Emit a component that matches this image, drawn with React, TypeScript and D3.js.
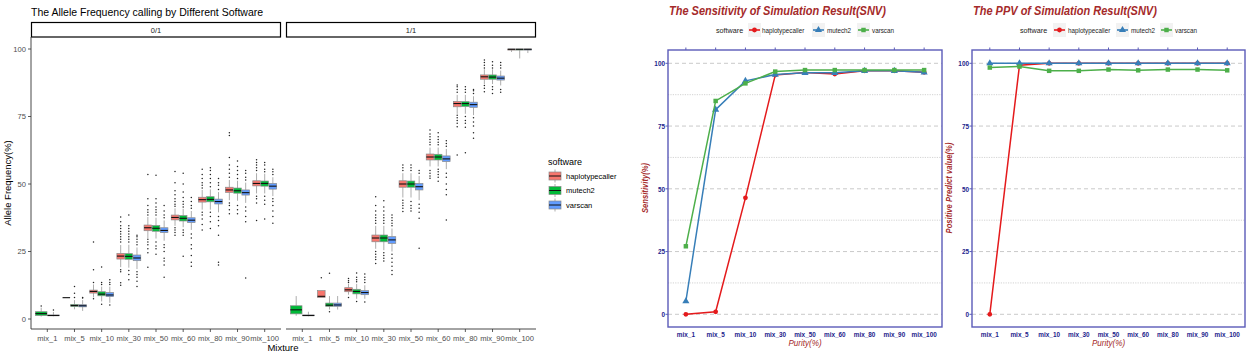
import React from "react";
import * as d3 from "d3";

// ---------------- DATA ----------------
const mixtures = ["mix_1", "mix_5", "mix_10", "mix_30", "mix_50", "mix_60", "mix_80", "mix_90", "mix_100"];
const softwares = ["haplotypecaller", "mutech2", "varscan"];
const facets = ["0/1", "1/1"];
const yTicks = [0, 25, 50, 75, 100];

type Stat = [number, number, number, number, number] | null; // q1, median, q3, whiskerLow, whiskerHigh

// Facet 0/1
const het_haplotypecaller_stats: Stat[] = [
  null, [7.9, 7.9, 7.9, 7.9, 7.9], [9.6, 10.2, 10.7, 8.0, 12.8], [22.2, 23.3, 24.3, 19.2, 27.4],
  [32.7, 33.8, 34.8, 30.0, 37.8], [36.7, 37.6, 38.5, 34.5, 41.0], [43.3, 44.2, 45.1, 40.5, 47.8],
  [46.9, 47.8, 48.8, 44.0, 51.5], [49.3, 50.2, 51.2, 46.5, 54.0],
];
const het_haplotypecaller_outliers: number[][] = [
  [], [], [7.5, 13.5, 18.2, 28.5],
  [12.5, 13.4, 17.5, 18.2, 28.5, 29.5, 30.5, 31.5, 32.4, 33.5, 34.5, 36.0, 37.8],
  [19.2, 24.5, 26.0, 27.5, 28.5, 29.5, 38.5, 39.5, 40.5, 42.0, 44.5, 53.5],
  [31.0, 32.0, 33.0, 33.8, 41.8, 42.5, 43.5, 44.5, 46.0, 47.5, 50.5, 54.6],
  [33.0, 35.0, 37.0, 38.5, 39.5, 48.5, 49.5, 50.5, 52.0, 53.5, 55.5],
  [39.0, 40.5, 42.0, 43.0, 52.5, 54.0, 55.5, 57.0, 59.8, 68.0, 69.0],
  [36.5, 43.0, 44.5, 45.5, 55.0, 56.0, 57.0, 58.0, 59.0],
];
const het_mutech2_stats: Stat[] = [
  [1.3, 2.0, 2.7, 0.9, 4.2], [4.6, 5.0, 5.4, 3.6, 7.0], [8.6, 9.2, 10.1, 6.5, 12.0], [22.1, 23.2, 24.2, 19.0, 27.5],
  [32.5, 33.6, 34.6, 29.8, 37.5], [36.3, 37.3, 38.3, 34.0, 40.8], [43.4, 44.3, 45.3, 40.5, 48.0],
  [46.6, 47.5, 48.5, 43.8, 51.2], [49.2, 50.2, 51.1, 46.5, 53.8],
];
const het_mutech2_outliers: number[][] = [
  [4.8], [8.0, 9.5, 12.0], [5.5, 12.8, 13.5, 19.3],
  [14.5, 16.5, 18.0, 28.5, 29.5, 30.5, 31.5, 32.5, 33.5, 34.5, 38.5],
  [24.0, 26.0, 27.0, 28.5, 38.5, 39.5, 40.5, 41.5, 43.0, 44.5, 53.2],
  [23.2, 31.0, 32.0, 33.0, 41.5, 42.5, 43.5, 45.0, 47.0, 50.0, 54.0],
  [33.5, 36.0, 38.0, 39.5, 49.0, 50.5, 52.0, 53.5, 55.0, 56.0],
  [39.0, 40.5, 42.0, 52.0, 53.5, 55.0, 56.5, 58.5],
  [37.0, 42.5, 44.0, 45.5, 54.5, 55.5, 57.0, 58.0],
];
const het_varscan_stats: Stat[] = [
  [1.2, 1.3, 1.5, 1.0, 2.6], [4.5, 4.9, 5.3, 3.0, 7.0], [8.3, 8.9, 9.8, 6.0, 12.0], [21.6, 22.6, 23.7, 18.5, 26.5],
  [32.0, 32.8, 33.8, 29.0, 36.5], [35.7, 36.6, 37.5, 33.0, 40.0], [42.6, 43.5, 44.4, 39.5, 47.0],
  [45.9, 46.8, 47.8, 43.0, 50.5], [48.1, 49.2, 50.2, 45.5, 52.5],
];
const het_varscan_outliers: number[][] = [
  [3.3], [7.8, 8.0], [5.2, 12.8, 13.5, 14.5],
  [12.0, 14.0, 15.5, 16.5, 17.5, 27.5, 28.5, 29.5, 30.5, 31.0],
  [15.5, 20.0, 21.5, 22.5, 25.0, 26.5, 27.5, 37.5, 38.5, 40.0, 42.0],
  [19.5, 21.0, 23.5, 26.0, 27.5, 30.0, 31.5, 41.0, 42.0, 43.5, 45.0],
  [20.0, 21.0, 31.0, 34.5, 36.5, 38.0, 48.0, 49.5, 50.5, 52.0],
  [15.2, 36.0, 38.0, 40.0, 41.5, 51.5, 52.5, 54.0, 55.0],
  [35.5, 38.0, 40.0, 42.0, 43.5, 44.5, 53.5, 54.5, 55.5],
];

// Facet 1/1
const hom_haplotypecaller_stats: Stat[] = [
  null, [8.0, 8.4, 10.5, 8.0, 10.5], [10.1, 10.8, 11.6, 9.0, 13.0], [28.6, 30.0, 31.1, 26.0, 34.5],
  [48.8, 50.0, 51.2, 45.0, 54.0], [58.9, 60.0, 61.1, 56.5, 63.5], [78.6, 79.8, 80.6, 76.0, 83.0],
  [88.8, 89.7, 90.4, 87.0, 92.5], [99.6, 99.9, 100, 98.9, 100],
];
const hom_haplotypecaller_outliers: number[][] = [
  [], [15.3], [8.0, 13.5, 14.2, 15.0],
  [20.6, 22.0, 23.0, 24.0, 25.0, 35.5, 36.5, 37.5, 38.5, 40.0, 42.0, 45.3],
  [39.8, 41.0, 42.0, 43.0, 44.0, 55.0, 56.0, 57.0],
  [52.1, 53.0, 54.0, 55.0, 64.5, 65.5, 66.5, 67.5, 68.5, 70.0],
  [60.7, 71.2, 72.5, 73.5, 74.5, 75.5, 84.0, 85.0, 86.0, 86.7],
  [84.2, 85.5, 86.5, 93.0, 94.0, 95.0, 95.9],
  [],
];
const hom_mutech2_stats: Stat[] = [
  [1.9, 3.4, 4.9, 1.2, 8.5], [4.7, 5.1, 5.9, 3.5, 8.5], [9.3, 10.2, 11.0, 7.5, 13.0], [28.6, 30.0, 31.1, 25.5, 34.5],
  [48.8, 50.0, 51.1, 45.0, 54.0], [58.9, 60.0, 61.0, 56.5, 63.5], [78.7, 79.8, 80.5, 76.0, 83.0],
  [88.8, 89.6, 90.4, 87.0, 92.5], [99.6, 99.9, 100, 96.5, 100],
];
const hom_mutech2_outliers: number[][] = [
  [], [2.7, 16.9], [6.5, 13.8, 14.5, 15.5, 17.0],
  [21.5, 22.5, 23.5, 24.5, 35.5, 36.5, 37.5, 38.5, 40.0, 41.5, 43.8],
  [40.0, 41.0, 42.0, 43.5, 55.0, 56.0, 57.0],
  [51.0, 52.5, 53.5, 54.5, 55.5, 64.5, 65.5, 66.5, 67.5, 69.0],
  [61.6, 71.0, 72.5, 73.5, 75.0, 84.0, 85.0, 86.0],
  [83.5, 85.0, 86.0, 93.0, 94.0, 95.3],
  [],
];
const hom_varscan_stats: Stat[] = [
  [1.2, 1.3, 1.5, 1.0, 2.7], [4.7, 5.2, 5.9, 3.5, 8.5], [9.0, 9.8, 10.5, 7.5, 12.5], [28.0, 29.3, 30.5, 25.0, 33.5],
  [47.8, 49.0, 50.2, 44.0, 53.0], [58.3, 59.3, 60.4, 55.5, 63.0], [78.4, 79.4, 80.3, 75.5, 82.5],
  [88.5, 89.2, 90.0, 86.5, 92.0], [99.6, 99.9, 100, 98.5, 100],
];
const hom_varscan_outliers: number[][] = [
  [], [], [6.3, 13.5, 14.5, 15.5, 16.7],
  [16.5, 18.0, 19.5, 21.0, 22.5, 24.0, 34.5, 35.5, 36.5, 37.5, 38.5],
  [26.2, 37.3, 39.5, 41.0, 42.5, 54.0, 55.0],
  [36.7, 46.0, 48.0, 50.0, 52.5, 54.0, 64.0, 65.0, 66.0],
  [66.9, 69.0, 71.5, 73.0, 74.5, 83.5, 84.5, 85.0],
  [84.0, 85.0, 93.0, 94.0, 95.0],
  [],
];

// Sensitivity (%)
const sens_haplotypecaller = [0, 1, 46.4, 95.3, 96.3, 95.7, 97, 97, 96.4];
const sens_mutech2 = [5.2, 81.5, 93, 95.5, 96.2, 96.2, 97, 97, 96.4];
const sens_varscan = [27.1, 85, 92, 96.7, 97.3, 97.3, 97.3, 97.3, 97.3];

// PPV (%)
const ppv_haplotypecaller = [0, 99.2, 100, 100, 100, 100, 100, 100, 100];
const ppv_mutech2 = [100, 100, 100, 100, 100, 100, 100, 100, 100];
const ppv_varscan = [98.3, 98.7, 97, 97, 97.5, 97.2, 97.5, 97.5, 97.2];

// ---------------- STYLE ----------------
const boxColors = ["#F8766D", "#00BA38", "#619CFF"];
const lineColors = ["#E41A1C", "#377EB8", "#4DAF4A"];
const FONT = "'Liberation Sans', Arial, sans-serif";
const navy = "#1C1C8C";
const darkRed = "#A52A2A";
const frame = "#5B5BB8";

const boxSets = [
  { stats: [het_haplotypecaller_stats, het_mutech2_stats, het_varscan_stats], outs: [het_haplotypecaller_outliers, het_mutech2_outliers, het_varscan_outliers] },
  { stats: [hom_haplotypecaller_stats, hom_mutech2_stats, hom_varscan_stats], outs: [hom_haplotypecaller_outliers, hom_mutech2_outliers, hom_varscan_outliers] },
];

// condensed text (simulates a narrow font)
function NText(p: {
  x: number; y: number; sx: number; size: number; anchor?: string; weight?: string; italic?: boolean;
  fill: string; rotate?: boolean; children: React.ReactNode;
}) {
  const tr = p.rotate
    ? `translate(${p.x},${p.y}) rotate(-90) scale(${p.sx},1)`
    : `translate(${p.x},${p.y}) scale(${p.sx},1)`;
  return (
    <text transform={tr} fontSize={p.size} textAnchor={p.anchor || "start"} fontWeight={p.weight || "normal"}
      fontStyle={p.italic ? "italic" : "normal"} fontFamily={FONT} fill={p.fill}>
      {p.children}
    </text>
  );
}

function BoxPanel() {
  const y = d3.scaleLinear().domain([0, 100]).range([319, 49]);
  const panelTop = 37, panelBottom = 329, W = 250;
  const xs = [31, 286];
  return (
    <g>
      <text x={31} y={16} fontSize={10.5} fontFamily={FONT} fill="#000">The Allele Frequency calling by Different Software</text>
      {facets.map((f, fi) => {
        const x0 = xs[fi];
        const x = d3.scalePoint<string>().domain(mixtures).range([x0, x0 + W]).padding(0.6);
        const step = x.step();
        const set = boxSets[fi];
        return (
          <g key={f}>
            <rect x={x0 + 0.5} y={22.5} width={W - 1} height={14.5} fill="#fff" stroke="#000" strokeWidth={1.2} />
            <text x={x0 + W / 2} y={32.5} fontSize={7.5} textAnchor="middle" fontFamily={FONT} fill="#1a1a1a">{f}</text>
            <line x1={x0} x2={x0 + W} y1={panelBottom} y2={panelBottom} stroke="#333" strokeWidth={0.9} />
            {mixtures.map((m) => (
              <g key={m}>
                <line x1={x(m)} x2={x(m)} y1={panelBottom} y2={panelBottom + 3} stroke="#333" strokeWidth={0.8} />
                <text x={x(m)} y={341} fontSize={7.6} textAnchor="middle" fontFamily={FONT} fill="#4D4D4D">{m}</text>
              </g>
            ))}
            {mixtures.map((m, mi) => {
              const present = softwares.map((s, si) => si).filter((si) => set.stats[si][mi] !== null);
              const total = 0.9 * step;
              const bw = total / present.length;
              return present.map((si, k) => {
                const st = set.stats[si][mi] as [number, number, number, number, number];
                const left = (x(m) as number) - total / 2 + k * bw;
                const cx = left + bw / 2;
                const [q1, med, q3, lo, hi] = st;
                return (
                  <g key={m + si}>
                    <line x1={cx} x2={cx} y1={y(hi)} y2={y(q3)} stroke="#8a8a8a" strokeWidth={0.7} />
                    <line x1={cx} x2={cx} y1={y(q1)} y2={y(lo)} stroke="#8a8a8a" strokeWidth={0.7} />
                    <rect x={left + 0.3} y={y(q3)} width={bw - 0.6} height={Math.max(0, y(q1) - y(q3))} fill={boxColors[si]} stroke="#8a8a8a" strokeWidth={0.7} />
                    <line x1={left + 0.3} x2={left + bw - 0.3} y1={y(med)} y2={y(med)} stroke="#111" strokeWidth={1.1} />
                    {set.outs[si][mi].map((v, oi) => (
                      <circle key={oi} cx={cx} cy={y(v)} r={0.75} fill="#222" />
                    ))}
                  </g>
                );
              });
            })}
          </g>
        );
      })}
      <line x1={31} x2={31} y1={panelTop} y2={panelBottom} stroke="#333" strokeWidth={0.9} />
      {yTicks.map((t) => (
        <g key={t}>
          <line x1={28} x2={31} y1={y(t)} y2={y(t)} stroke="#333" strokeWidth={0.8} />
          <text x={26} y={y(t) + 2.6} fontSize={7.6} textAnchor="end" fontFamily={FONT} fill="#4D4D4D">{t}</text>
        </g>
      ))}
      <text transform="translate(11,183) rotate(-90)" fontSize={9.5} textAnchor="middle" fontFamily={FONT} fill="#000">Allele Frequency(%)</text>
      <text x={283} y={351} fontSize={9.5} textAnchor="middle" fontFamily={FONT} fill="#000">Mixture</text>
      <text x={548} y={165} fontSize={9} fontFamily={FONT} fill="#000">software</text>
      {softwares.map((s, i) => {
        const cy = 176 + i * 14.5;
        return (
          <g key={s}>
            <line x1={555} x2={555} y1={cy - 6.5} y2={cy + 6.5} stroke="#8a8a8a" strokeWidth={0.7} />
            <rect x={549} y={cy - 4} width={12} height={8} fill={boxColors[i]} stroke="#8a8a8a" strokeWidth={0.7} />
            <line x1={549} x2={561} y1={cy} y2={cy} stroke="#111" strokeWidth={1} />
            <text x={566} y={cy + 2.6} fontSize={7.5} fontFamily={FONT} fill="#000">{s}</text>
          </g>
        );
      })}
    </g>
  );
}

const symbolTypes = [d3.symbolCircle, d3.symbolTriangle, d3.symbolSquare];
const symbolSizes = [18, 22, 20];

function LinePanel(props: {
  left: number; right: number; title: string; titleSx: number; ytitle: string; series: number[][];
  legendX: number; keyXs: number[]; textXs: number[];
}) {
  const { left, right, title, titleSx, ytitle, series, legendX, keyXs, textXs } = props;
  const top = 50, bottom = 327;
  const x = d3.scalePoint<string>().domain(mixtures).range([left, right]).padding(0.6);
  const y = d3.scaleLinear().domain([0, 100]).range([314.3, 63.3]);
  const line = d3.line<number>().x((d, i) => x(mixtures[i]) as number).y((d) => y(d));
  const minor = [12.5, 37.5, 62.5, 87.5];
  return (
    <g>
      <NText x={left + 1} y={14.5} sx={titleSx} size={12.5} italic weight="bold" fill={darkRed}>{title}</NText>
      <NText x={legendX} y={33} sx={0.9} size={8} fill="#222">software</NText>
      {softwares.map((s, i) => (
        <g key={s}>
          <rect x={keyXs[i]} y={23} width={13} height={14} fill="#F2F2F2" />
          <line x1={keyXs[i] + 1} x2={keyXs[i] + 12} y1={30} y2={30} stroke={lineColors[i]} strokeWidth={1.6} />
          <path d={d3.symbol().type(symbolTypes[i]).size(symbolSizes[i])() || ""} transform={`translate(${keyXs[i] + 6.5},30)`} fill={lineColors[i]} />
          <NText x={textXs[i]} y={32.5} sx={0.9} size={7} fill="#222">{s}</NText>
        </g>
      ))}
      {minor.map((t) => (
        <line key={"m" + t} x1={left} x2={right} y1={y(t)} y2={y(t)} stroke="#C8C8C8" strokeWidth={0.8} strokeDasharray="1.2,1.2" />
      ))}
      {yTicks.map((t) => (
        <line key={"g" + t} x1={left} x2={right} y1={y(t)} y2={y(t)} stroke="#C4C4C4" strokeWidth={0.9} strokeDasharray="4,3" />
      ))}
      <rect x={left} y={top} width={right - left} height={bottom - top} fill="none" stroke={frame} strokeWidth={1.4} />
      {mixtures.map((m) => (
        <g key={m}>
          <line x1={x(m)} x2={x(m)} y1={top - 2.5} y2={top} stroke={frame} strokeWidth={1} />
          <NText x={x(m) as number} y={337} sx={0.8} size={8} weight="bold" anchor="middle" fill={navy}>{m}</NText>
        </g>
      ))}
      {yTicks.map((t) => (
        <g key={t}>
          <line x1={left - 2.5} x2={left} y1={y(t)} y2={y(t)} stroke={frame} strokeWidth={1} />
          <NText x={left - 3} y={y(t) + 2.7} sx={0.85} size={7.5} weight="bold" anchor="end" fill={navy}>{t}</NText>
        </g>
      ))}
      {series.map((vals, si) => (
        <g key={si}>
          <path d={line(vals) || ""} fill="none" stroke={lineColors[si]} strokeWidth={1.5} />
          {vals.map((v, i) => (
            <path key={i} d={d3.symbol().type(symbolTypes[si]).size(symbolSizes[si])() || ""} transform={`translate(${x(mixtures[i])},${y(v)})`} fill={lineColors[si]} />
          ))}
        </g>
      ))}
      <NText x={(left + right) / 2} y={346} sx={0.9} size={9} italic anchor="middle" fill={darkRed}>Purity(%)</NText>
      <NText x={left - 20} y={188} sx={0.9} size={8.5} italic weight="bold" anchor="middle" fill={darkRed} rotate>{ytitle}</NText>
    </g>
  );
}

export default function App() {
  return (
    <svg width={1248} height={355} style={{ position: "absolute", left: 0, top: 0, background: "#fff" }}>
      <rect x={0} y={0} width={1248} height={355} fill="#fff" />
      <BoxPanel />
      <LinePanel left={668} right={942} title="The Sensitivity of Simulation Result(SNV)" titleSx={0.88} ytitle="Sensitivity(%)"
        series={[sens_haplotypecaller, sens_mutech2, sens_varscan]}
        legendX={716} keyXs={[748, 812, 857]} textXs={[762, 827, 872]} />
      <LinePanel left={972} right={1245} title="The PPV of Simulation Result(SNV)" titleSx={0.88} ytitle="Positive Predict value(%)"
        series={[ppv_haplotypecaller, ppv_mutech2, ppv_varscan]}
        legendX={1020} keyXs={[1053, 1116, 1160]} textXs={[1068, 1131, 1175]} />
    </svg>
  );
}
